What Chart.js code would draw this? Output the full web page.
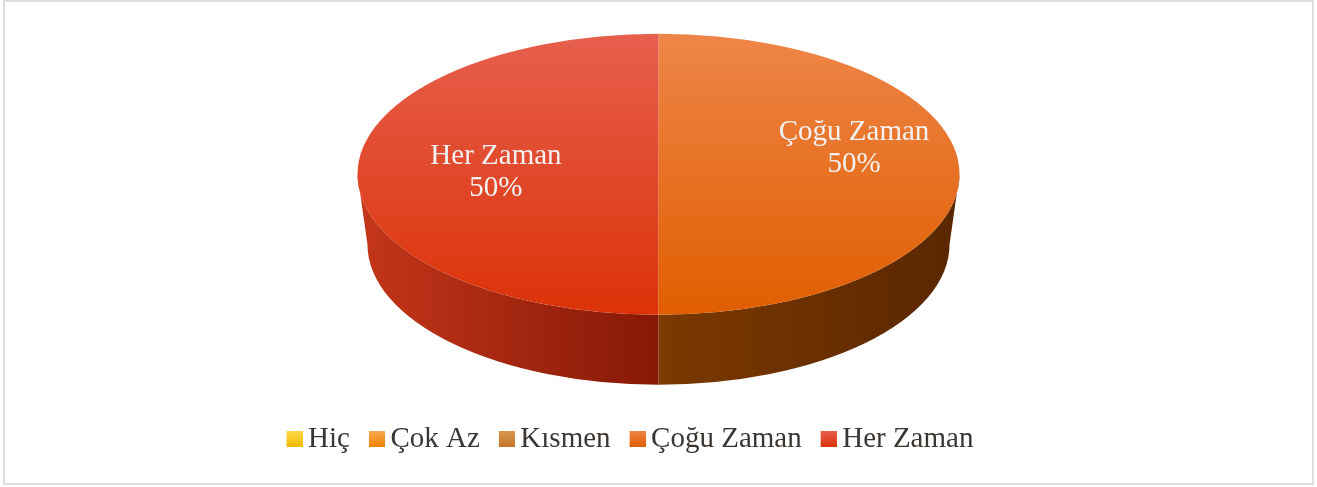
<!DOCTYPE html>
<html>
<head>
<meta charset="utf-8">
<script src="https://cdn.jsdelivr.net/npm/chart.js@4.4.1/dist/chart.umd.min.js"></script>
<style>
    html, body { margin: 0; padding: 0; background: #fff; }
    .wrap { position: relative; width: 1317px; height: 487px; overflow: hidden; }
    .frame { position: absolute; left: 3px; top: 0; width: 1307px; height: 481px; border: 2px solid #e2ddd8; z-index: 1; }
    /* canvas is taller than the view so the pie sits higher above the legend */
    canvas { position: absolute; left: 0; top: -66px; }
</style>
</head>
<body>
<div class="wrap">
    <div class="frame"></div>
    <canvas id="pieChart" width="1317" height="553"></canvas>
</div>
<script>
// Data
const categories = ["Hiç", "Çok Az", "Kısmen", "Çoğu Zaman", "Her Zaman"];
const answerCounts = [0, 0, 0, 1, 1];

// Look of the 3D pie
const pieRadius = 140.5;          // vertical half-axis of the top face
const stretchX = 301 / 140.5;     // horizontal stretch to make the ellipse
const sideDepth = 70;
const bottomShrink = 0.967;       // small perspective on the bottom rim
const legendShift = -33;          // legend sits a bit left of the pie
const flatColors = ["#f7c800", "#f58f1e", "#cb8238", "#ec6a12", "#e6401e"];
const topColors = [
    ["#ffd84a", "#f0bb00"],
    ["#faa651", "#f08400"],
    ["#d8984f", "#c37428"],
    ["#ee8548", "#e05e00"],
    ["#e65f4d", "#dc3208"]
];
const sideColors = [
    ["#c89a00", "#8a6a00"],
    ["#c06a10", "#7a4200"],
    ["#9c5e20", "#6a3e14"],
    ["#7c3900", "#592700"],
    ["#c4361a", "#861806"]
];
const labelNudge = [[0, 0], [0, 0], [0, 0], [30, -26], [3, -2]];

// vertical gradient on the (unstretched) circle
function topGradient(ctx, arc, i) {
    const g = ctx.createLinearGradient(0, arc.y - pieRadius, 0, arc.y + pieRadius);
    g.addColorStop(0, topColors[i][0]);
    g.addColorStop(1, topColors[i][1]);
    return g;
}

// legend swatch: 16px square sitting at the right of a wider image,
// so the text gap is as tight as in the original
function legendSwatch(i) {
    const c = document.createElement("canvas");
    c.width = 34;
    c.height = 16;
    const g = c.getContext("2d");
    const grad = g.createLinearGradient(0, 0, 0, 16);
    grad.addColorStop(0, topColors[i][0]);
    grad.addColorStop(1, topColors[i][1]);
    g.fillStyle = grad;
    g.fillRect(18, 0, 16, 16);
    return c;
}

const pie3d = {
    id: "pie3d",
    afterLayout(chart) {
        chart.legend.left += legendShift;
        chart.legend.right += legendShift;
    },
    beforeDatasetsDraw(chart) {
        const ctx = chart.ctx;
        const arcs = chart.getDatasetMeta(0).data;
        const cx = arcs[0].x, cy = arcs[0].y;
        ctx.save();
        ctx.translate(cx, cy);
        ctx.scale(stretchX, 1);
        ctx.translate(-cx, -cy);
        // front wall, only the part facing us (0..PI)
        arcs.forEach((arc, i) => {
            const a0 = Math.max(arc.startAngle, 0);
            const a1 = Math.min(arc.endAngle, Math.PI);
            if (a1 <= a0) return;
            const r = arc.outerRadius;
            const g = ctx.createLinearGradient(cx - r, 0, cx + r, 0);
            if (i === 4) {
                g.addColorStop(0, sideColors[i][0]);
                g.addColorStop(0.5, sideColors[i][1]);
            } else {
                g.addColorStop(0.5, sideColors[i][0]);
                g.addColorStop(1, sideColors[i][1]);
            }
            ctx.beginPath();
            ctx.arc(cx, cy, r, a0, a1);
            ctx.ellipse(cx, cy + sideDepth, r * bottomShrink, r, 0, a1, a0, true);
            ctx.closePath();
            ctx.fillStyle = g;
            ctx.fill();
        });
        // top face gradients are set here so they follow the stretch
        arcs.forEach((arc, i) => {
            arc.options.backgroundColor = topGradient(ctx, arc, i);
        });
    },
    afterDatasetsDraw(chart) {
        const ctx = chart.ctx;
        ctx.restore();
        const arcs = chart.getDatasetMeta(0).data;
        const total = answerCounts.reduce((a, b) => a + b, 0);
        ctx.save();
        ctx.fillStyle = "#f2f2f2";
        ctx.font = "29px 'Liberation Serif', 'Times New Roman', serif";
        ctx.textAlign = "center";
        ctx.textBaseline = "middle";
        arcs.forEach((arc, i) => {
            if (!answerCounts[i]) return;
            const mid = (arc.startAngle + arc.endAngle) / 2;
            const x = arc.x + Math.cos(mid) * arc.outerRadius * 0.55 * stretchX + labelNudge[i][0];
            const y = arc.y + Math.sin(mid) * arc.outerRadius * 0.55 + labelNudge[i][1];
            const pct = Math.round(answerCounts[i] / total * 100) + "%";
            ctx.fillText(categories[i], x, y - 16);
            ctx.fillText(pct, x, y + 16);
        });
        ctx.restore();
    }
};

new Chart(document.getElementById("pieChart"), {
    type: "pie",
    data: {
        labels: categories,
        datasets: [{
            data: answerCounts,
            backgroundColor: flatColors,
            borderWidth: 0,
            radius: pieRadius
        }]
    },
    options: {
        responsive: false,
        animation: false,
        layout: { padding: { top: 0, bottom: 23.5, left: 0, right: 0 } },
        plugins: {
            tooltip: { enabled: false },
            legend: {
                position: "bottom",
                labels: {
                    usePointStyle: true,
                    boxWidth: 16,
                    boxHeight: 16,
                    padding: 10,
                    color: "#3c3632",
                    font: { family: "'Liberation Serif', 'Times New Roman', serif", size: 29 },
                    generateLabels(chart) {
                        const items = Chart.controllers.pie.overrides.plugins.legend.labels.generateLabels(chart);
                        items.forEach((it, i) => {
                            it.fillStyle = flatColors[i];
                            it.strokeStyle = flatColors[i];
                            it.lineWidth = 0;
                            it.pointStyle = legendSwatch(i);
                        });
                        return items;
                    }
                }
            }
        }
    },
    plugins: [pie3d]
});
</script>
</body>
</html>
